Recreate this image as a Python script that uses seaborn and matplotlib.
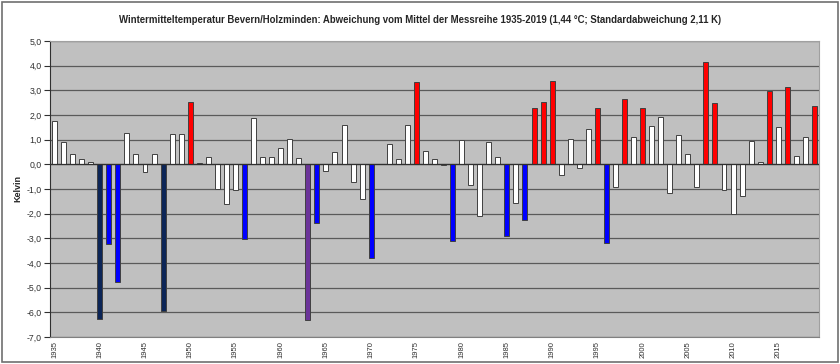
import numpy as np
import pandas as pd
import matplotlib
matplotlib.use('agg')
import matplotlib.pyplot as plt
import seaborn as sns

# Abweichung vom Mittel (K), Winter 1935-2019
years = list(range(1935, 2020))
anomaly = [
    1.76, 0.89, 0.41, 0.20, 0.09, -6.27, -3.23, -4.78, 1.26, 0.41,
    -0.32, 0.41, -5.96, 1.24, 1.24, 2.51, 0.04, 0.28, -0.99, -1.59,
    -1.04, -3.04, 1.86, 0.31, 0.28, 0.65, 1.01, 0.27, -6.31, -2.39,
    -0.27, 0.51, 1.61, -0.73, -1.42, -3.81, 0.02, 0.82, 0.23, 1.59,
    3.32, 0.55, 0.23, -0.03, -3.11, 0.97, -0.85, -2.10, 0.89, 0.28,
    -2.92, -1.58, -2.24, 2.28, 2.53, 3.38, -0.45, 1.01, -0.14, 1.42,
    2.28, -3.18, -0.92, 2.64, 1.09, 2.27, 1.57, 1.91, -1.15, 1.20,
    0.41, -0.93, 4.14, 2.47, -1.05, -2.01, -1.27, 0.93, 0.11, 2.96,
    1.50, 3.12, 0.32, 1.09, 2.35,
]
sd = 2.11
y_ticks = [5, 4, 3, 2, 1, 0, -1, -2, -3, -4, -5, -6, -7]
y_labels = ["5,0", "4,0", "3,0", "2,0", "1,0", "0,0", "-1,0", "-2,0",
            "-3,0", "-4,0", "-5,0", "-6,0", "-7,0"]

def farbe(v):
    if v > sd:
        return "#FF0000"
    if v < -6.3:
        return "#6B3399"
    if v < -5.5:
        return "#0C2557"
    if v < -sd:
        return "#0000FF"
    return "white"

df = pd.DataFrame({"Jahr": years, "Abw": anomaly})
colors = [farbe(v) for v in anomaly]

sns.set_style("white")
plt.rcParams['font.family'] = ['Liberation Sans', 'DejaVu Sans']

fig = plt.figure(figsize=(8.4, 3.64), dpi=100)
ax = fig.add_axes([50 / 840, 27 / 364, 769 / 840, 296 / 364])
ax.set_facecolor("#C0C0C0")

sns.barplot(data=df, x="Jahr", y="Abw", hue="Jahr", palette=colors,
            width=0.55, edgecolor="#404040", linewidth=0.7, saturation=1,
            legend=False, ax=ax, zorder=3)

ax.set_ylim(-7, 5)
ax.set_xlim(-0.5, len(years) - 0.5)
ax.set_yticks(y_ticks)
ax.set_yticklabels(y_labels, fontsize=6.3, color="#303030")
for t in y_ticks:
    ax.axhline(t, color="#5A5A5A", linewidth=0.9, zorder=1)
ax.axhline(0, color="#303030", linewidth=0.9, zorder=4)

pos = [i for i, j in enumerate(years) if j % 5 == 0]
ax.set_xticks(pos)
ax.set_xticklabels([str(years[i]) for i in pos], rotation=90, fontsize=5.5,
                   color="#303030")
ax.tick_params(axis="y", length=4, width=0.8, color="#303030", pad=2, left=True)
ax.tick_params(axis="x", length=0, pad=3)
ax.set_xlabel("")
ax.set_ylabel("Kelvin", fontsize=6.5, fontweight="bold", labelpad=3)

for s in ["top", "right"]:
    ax.spines[s].set_color("#A0A0A0")
    ax.spines[s].set_linewidth(0.8)
ax.spines["left"].set_color("#303030")
ax.spines["bottom"].set_color("#808080")

fig.text(0.5, 1 - 20 / 364, "Wintermitteltemperatur Bevern/Holzminden: Abweichung vom Mittel "
         "der Messreihe 1935-2019 (1,44 °C; Standardabweichung 2,11 K)",
         ha="center", va="center", fontsize=6.95, fontweight="bold")

fig.patches.append(plt.Rectangle((2 / 840, 2 / 364), 836 / 840, 360 / 364,
                                 transform=fig.transFigure, fill=False,
                                 edgecolor="#707070", linewidth=1.2))

fig.savefig("out.png", dpi=100)
